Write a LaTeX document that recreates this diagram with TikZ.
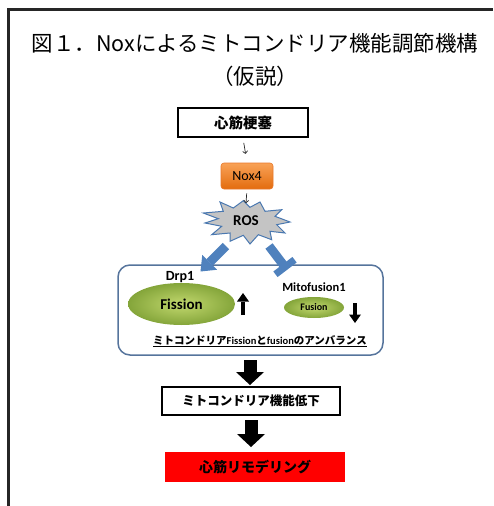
\documentclass[tikz,border=0pt]{standalone}
\usepackage{fontspec}
\setmainfont{Carlito}
\newfontfamily\jp{Noto Sans CJK JP}
\newfontfamily\calf{Carlito}
\usetikzlibrary{arrows.meta,calc,shapes.geometric}
\definecolor{noxtop}{HTML}{F9A257}
\definecolor{noxbot}{HTML}{E36C0E}
\definecolor{noxedge}{HTML}{E8782A}
\definecolor{arrblue}{HTML}{4F81BD}
\definecolor{rosfill}{HTML}{C4C4C4}
\definecolor{rosedge}{HTML}{4A78B0}
\definecolor{boxblue}{HTML}{56749C}
\definecolor{grin}{HTML}{C2D86E}
\definecolor{grout}{HTML}{84A53A}
\tikzset{
  jbox/.style={draw=black, line width=2pt, inner sep=0pt, fill=white},
  smallarr/.style={draw=black!85, line width=0.7pt, -{To[length=3pt,width=5.5pt]}},
  bigarr/.style={draw=black, line width=13pt, -{Triangle[width=28pt,length=13pt,line width=0pt]}},
  smallblk/.style={draw=black, line width=4.8pt, -{Triangle[width=12pt,length=8.5pt,line width=0pt]}},
  bluearr/.style={draw=arrblue, line width=9pt, -{Triangle[width=21pt,length=13pt,line width=0pt]}},
  blueline/.style={draw=arrblue, line width=9pt},
  greenell/.style={ellipse, inner sep=0pt, inner color=grin, outer color=grout},
  lab/.style={font=\calf\bfseries, inner sep=0pt},
}
\begin{document}
\begin{tikzpicture}[x=1pt,y=-1pt]
\useasboundingbox (0,0) rectangle (493,506);
% frame
\draw[line width=2.2pt, black!85] (8.5,506) -- (8.5,9.5) -- (493,9.5);
% title
\node[align=center, inner sep=0pt, font=\jp\fontsize{21.5}{32.5}\selectfont] (title) at (255,60)
  {図１．Noxによるミトコンドリア機能調節機構\\（仮説）};
% infarction box
\node[jbox, minimum width=130pt, minimum height=29pt, font=\jp\bfseries\fontsize{14.5}{14.5}\selectfont] (mi) at (243,122.5) {心筋梗塞};
% Nox4
\node[draw=noxedge, top color=noxtop, bottom color=noxbot, rounded corners=3pt, line width=0.6pt,
      minimum width=52pt, minimum height=26pt, inner sep=0pt, font=\calf\fontsize{14}{14}\selectfont] (nox) at (247,176) {Nox4};
\draw[smallarr, shorten <=5pt, shorten >=9pt] (mi.south) -- (nox.north);
% ROS
\draw[draw=rosedge, fill=rosfill, line width=1pt, line join=miter]
  (203.3,213) -- (223.3,211.3) -- (220,202) -- (233.3,208) -- (243.3,200.7) -- (250,207.3)
  -- (260,202) -- (265,211.3) -- (281.7,209.7) -- (275,216.3) -- (290,222) -- (276.7,224.7)
  -- (285,233) -- (270,231.3) -- (271.7,239.7) -- (258.3,234.7) -- (250,244) -- (243.3,235.3)
  -- (230,241.3) -- (230,233) -- (211.7,234.7) -- (221.7,226.3) -- (205,223) -- (218.3,218.7) -- cycle;
\node[lab, font=\calf\bfseries\fontsize{15}{15}\selectfont] (ros) at (246,221) {ROS};
\coordinate (rostop) at (246,203);
\draw[smallarr, shorten <=4pt] (nox.south) -- (rostop);
% imbalance box
\node[draw=boxblue, line width=1.5pt, rounded corners=12pt, minimum width=265pt, minimum height=90pt, inner sep=0pt] (imb) at (250.5,310) {};
% blue arrows
\coordinate (la0) at (226,246);
\coordinate (la1) at (200.5,271.5);
\draw[bluearr] (la0) -- (la1);
\coordinate (ra0) at (269,246);
\coordinate (ra1) at (285,267);
\draw[blueline] (ra0) -- (ra1);
\draw[blueline, line width=7pt] ($(ra1)!12pt!90:(ra0)$) -- ($(ra1)!12pt!-90:(ra0)$);
% fission
\node[lab, font=\calf\bfseries\fontsize{14}{14}\selectfont] (drp) at (180,277) {Drp1};
\node[greenell, minimum width=107pt, minimum height=42pt, font=\calf\bfseries\fontsize{15}{15}\selectfont] (fis) at (181.5,304) {Fission};
\coordinate (upb) at (243,315);
\coordinate (upt) at (243,293);
\draw[smallblk] (upb) -- (upt);
% fusion
\node[lab, font=\calf\bfseries\fontsize{12.5}{12.5}\selectfont] (mf) at (314,287) {Mitofusion1};
\node[greenell, minimum width=60pt, minimum height=21pt, font=\calf\bfseries\fontsize{10}{10}\selectfont] (fus) at (314,307.5) {Fusion};
\coordinate (dnb) at (355,303);
\coordinate (dnt) at (355,323);
\draw[smallblk] (dnb) -- (dnt);
% imbalance text
\node[inner sep=0pt, font=\fontsize{10.5}{10.5}\selectfont] (imbt) at (260,341)
  {\underline{{\jp\bfseries ミトコンドリア}{\calf\bfseries Fission}{\jp\bfseries と}{\calf\bfseries fusion}{\jp\bfseries のアンバランス}}};
% dysfunction
\node[jbox, minimum width=178pt, minimum height=28pt, font=\jp\bfseries\fontsize{12.5}{12.5}\selectfont] (mdys) at (251,401) {ミトコンドリア機能低下};
\coordinate (a1s) at (250,360);
\coordinate (a1e) at (250,385);
\draw[bigarr] (a1s) -- (a1e);
% remodeling
\node[fill=red, minimum width=180pt, minimum height=30pt, inner sep=0pt, font=\jp\bfseries\fontsize{14}{14}\selectfont] (remod) at (255,467) {心筋リモデリング};
\coordinate (a2s) at (251,420);
\coordinate (a2e) at (251,447);
\draw[bigarr] (a2s) -- (a2e);
\end{tikzpicture}
\end{document}
